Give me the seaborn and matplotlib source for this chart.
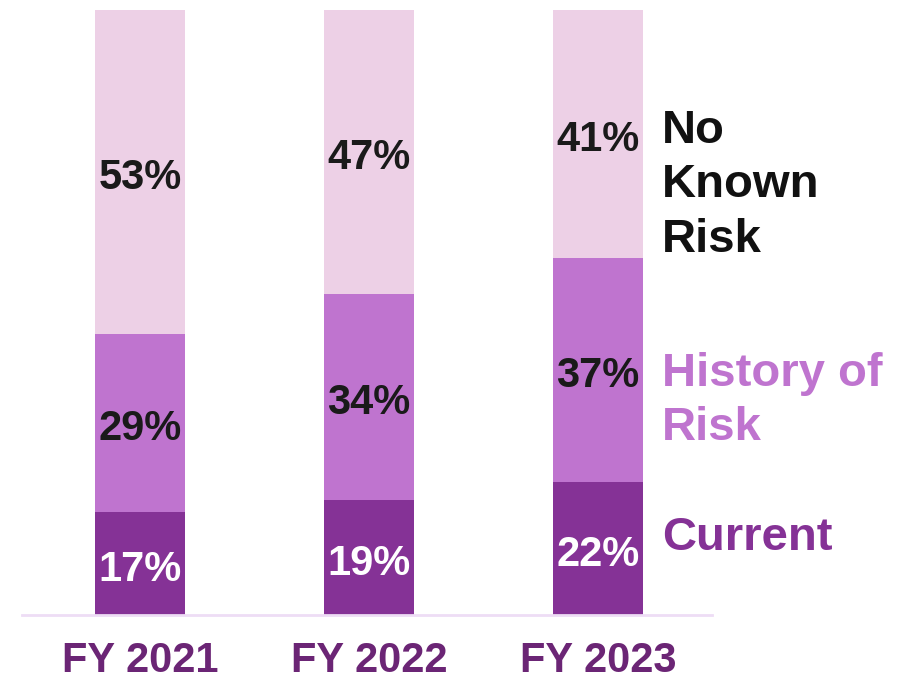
"""Stacked bars: risk status share by fiscal year."""

import matplotlib

matplotlib.use("Agg")
import matplotlib.pyplot as plt
import numpy as np
import seaborn as sns

sns.set_theme(style="white")
plt.rcParams["font.family"] = ["Liberation Sans", "DejaVu Sans"]

years = ["FY 2021", "FY 2022", "FY 2023"]
current = [17.0, 19.0, 22.0]
history = [29.4, 34.0, 37.0]
no_known = [53.6, 47.0, 41.0]
current_lbl = ["17%", "19%", "22%"]
history_lbl = ["29%", "34%", "37%"]
no_known_lbl = ["53%", "47%", "41%"]

series_names = ["Current", "History of\nRisk", "No\nKnown\nRisk"]
colors = ["#853296", "#BF74CF", "#EDD0E6"]
label_colors = ["#853296", "#BF74CF", "#111111"]
text_colors = ["white", "#1a1a1a", "#1a1a1a"]
legend_y = [12.7, 35.4, 71.0]


def main() -> None:
    fig = plt.figure(figsize=(9.18, 6.82), dpi=100)
    ax = fig.add_axes([0.024, 0.0982, 0.752, 0.8871])

    layers = [(current, current_lbl), (history, history_lbl), (no_known, no_known_lbl)]
    bottom = np.zeros(len(years))
    for (vals, lbls), color, tcol in zip(layers, colors, text_colors):
        sns.barplot(x=years, y=vals, bottom=bottom, color=color, width=0.39,
                    saturation=1, linewidth=0, ax=ax)
        for i, (v, lab) in enumerate(zip(vals, lbls)):
            ax.text(i, bottom[i] + v / 2 - 1.0, lab, ha="center", va="center",
                    fontsize=30, fontweight="bold", color=tcol)
        bottom = bottom + np.array(vals)

    for name, col, y in zip(series_names, label_colors, legend_y):
        ax.text(2.28, y, name, ha="left", va="center", fontsize=34,
                fontweight="bold", color=col, linespacing=1.3, clip_on=False)

    ax.set_xlim(-0.515, 2.5)
    ax.set_ylim(0, 100)
    ax.set_yticks([])
    ax.set_xlabel(""); ax.set_ylabel("")
    for side in ["top", "right", "left"]:
        ax.spines[side].set_visible(False)
    ax.spines["bottom"].set_color("#EEDDF5")
    ax.spines["bottom"].set_linewidth(2)
    ax.tick_params(axis="x", length=0, pad=19, labelsize=30, labelcolor="#6B2575")
    for t in ax.get_xticklabels():
        t.set_fontweight("bold")

    fig.savefig("out.png", dpi=100)
    plt.close(fig)


if __name__ == "__main__":
    main()
